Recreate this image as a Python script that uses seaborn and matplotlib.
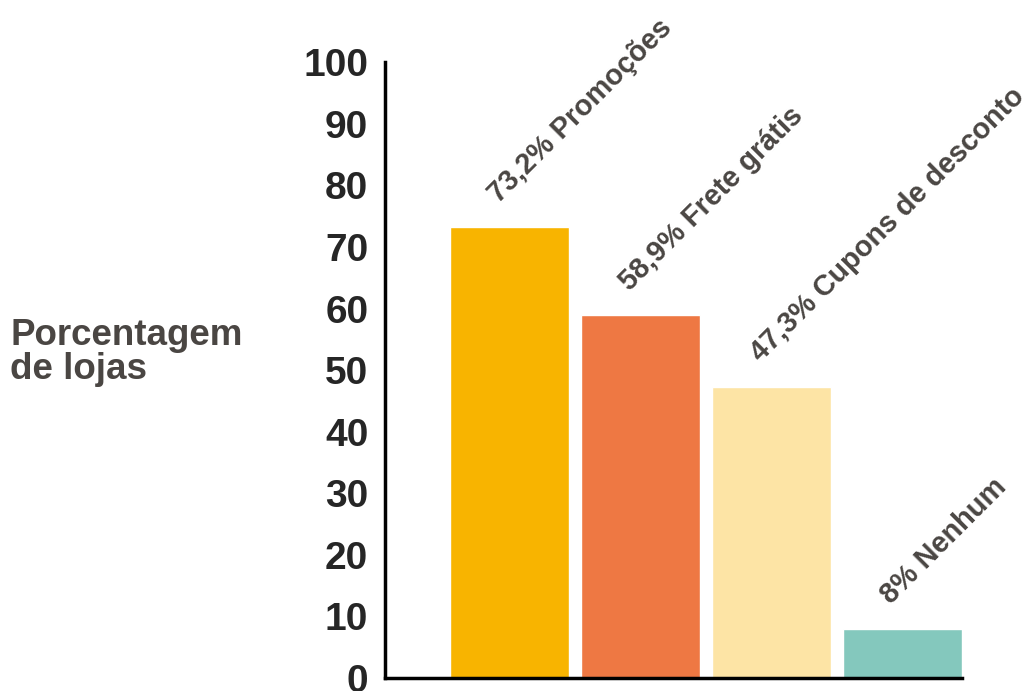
import matplotlib
matplotlib.use("Agg")
import matplotlib.pyplot as plt
import seaborn as sns
import pandas as pd

# data
categories = ["Promoções", "Frete grátis", "Cupons de desconto", "Nenhum"]
values = [73.2, 58.9, 47.3, 8.0]
value_labels = ["73,2%", "58,9%", "47,3%", "8%"]
colors = ["#f8b400", "#ee7843", "#fde4a5", "#84c8bd"]

sns.set_style("white")
plt.rcParams["font.family"] = ["Liberation Sans", "DejaVu Sans"]

df = pd.DataFrame({"cat": categories, "val": values})

fig = plt.figure(figsize=(10.30, 6.91), dpi=100)
ax = fig.add_axes([0.3738, 0.0188, 0.934 - 0.3738, 0.910 - 0.0188])
sns.barplot(data=df, x="cat", y="val", hue="cat", palette=colors,
            width=0.908, saturation=1, legend=False, ax=ax)

ax.set_xlim(-0.95, 3.454)
ax.set_ylim(0, 100)
ax.set_yticks(range(0, 101, 10))
ax.tick_params(axis="y", direction="in", length=22, width=3, color="black",
               labelsize=28, pad=12)
for t in ax.get_yticklabels():
    t.set_fontweight("bold")
ax.set_xticks([])
ax.set_xlabel("")
ax.set_ylabel("")
sns.despine(ax=ax)
for s in ["left", "bottom"]:
    ax.spines[s].set_linewidth(2.5)
    ax.spines[s].set_color("black")
    ax.spines[s].set_zorder(5)

# rotated labels above each bar
for i, (v, lab, cat) in enumerate(zip(values, value_labels, categories)):
    ax.annotate(f"{lab} {cat}", xy=(i, v), xytext=(-5, 14), textcoords="offset points",
                rotation=45, rotation_mode="anchor", ha="left", va="bottom",
                fontsize=20.8, fontweight="bold", color="#4a4643", annotation_clip=False)

fig.text(0.01, 0.49, "Porcentagem\nde lojas", ha="left", va="center",
         fontsize=26.5, fontweight="bold", color="#4a4643", linespacing=0.95)

fig.savefig("out.png", dpi=100)
